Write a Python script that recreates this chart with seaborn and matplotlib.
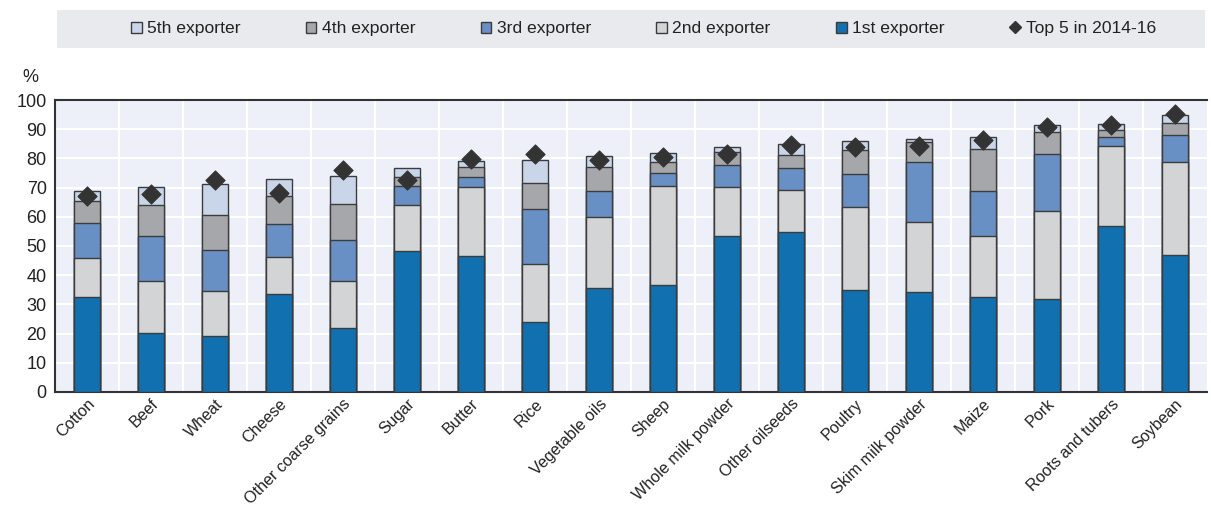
import matplotlib
matplotlib.use("Agg")
import matplotlib.pyplot as plt
import matplotlib.patches as mpatches
from matplotlib.lines import Line2D
import numpy as np
import pandas as pd
import seaborn as sns

# Products, ordered as in the reference
products = ["Cotton", "Beef", "Wheat", "Cheese", "Other coarse grains", "Sugar",
            "Butter", "Rice", "Vegetable oils", "Sheep", "Whole milk powder",
            "Other oilseeds", "Poultry", "Skim milk powder", "Maize", "Pork",
            "Roots and tubers", "Soybean"]

# Export shares (%) of each ranked exporter
first = [32.6, 20.1, 19.1, 33.7, 21.8, 48.2, 46.5, 23.8, 35.5, 36.7, 53.3, 54.7, 34.9, 34.2, 32.5, 31.9, 57.0, 46.8]
second = [13.3, 18.0, 15.4, 12.4, 16.3, 15.7, 23.8, 20.0, 24.3, 33.7, 17.0, 14.6, 28.4, 24.0, 20.9, 30.2, 27.2, 31.9]
third = [11.9, 15.4, 14.2, 11.5, 13.8, 6.6, 3.5, 18.8, 9.0, 4.6, 7.3, 7.4, 11.4, 20.5, 15.6, 19.4, 3.1, 9.4]
fourth = [7.7, 10.7, 11.9, 9.4, 12.4, 3.3, 3.3, 8.9, 8.1, 3.9, 4.5, 4.6, 8.3, 6.8, 14.1, 7.5, 2.5, 4.0]
fifth = [3.3, 6.0, 10.8, 5.8, 9.8, 3.0, 1.9, 7.8, 3.9, 3.0, 1.9, 3.5, 3.1, 1.1, 4.1, 2.5, 1.9, 2.9]
top5_2014_16 = [67.0, 67.7, 72.6, 68.1, 76.1, 72.7, 79.8, 81.6, 79.3, 80.5, 81.4, 84.7, 83.9, 84.2, 86.3, 90.8, 91.4, 95.2]

labels = ["1st exporter", "2nd exporter", "3rd exporter", "4th exporter", "5th exporter"]
colors = ["#1170b0", "#d3d4d6", "#6890c4", "#a6a7aa", "#c9d6ea"]

df = pd.DataFrame({"product": products, "1st exporter": first, "2nd exporter": second,
                   "3rd exporter": third, "4th exporter": fourth, "5th exporter": fifth,
                   "top5": top5_2014_16})
cum = df[labels].cumsum(axis=1)

sns.set_style("white")
plt.rcParams["font.family"] = ["Liberation Sans", "DejaVu Sans"]
plt.rcParams["text.color"] = "#222222"
plt.rcParams["xtick.color"] = "#222222"
plt.rcParams["ytick.color"] = "#222222"

fig = plt.figure(figsize=(12.11, 5.09), dpi=100)
ax = fig.add_axes([0.0454, 0.2299, 0.9513, 0.5736])
ax.set_facecolor("#edf0f8")

# stacked bars: draw tallest cumulative first
for lab, col in reversed(list(zip(labels, colors))):
    sns.barplot(x=df["product"], y=cum[lab], color=col, width=0.41, saturation=1,
                edgecolor="#3c3c3c", linewidth=1.0, ax=ax, zorder=3)

sns.scatterplot(x=df["product"], y=df["top5"], marker="D", s=95, color="#333333",
                edgecolor="#333333", ax=ax, zorder=5, legend=False)

ax.set_ylim(0, 100)
ax.set_xlim(-0.5, len(products) - 0.5)
ax.set_yticks(np.arange(0, 101, 10))
ax.set_xlabel("")
ax.set_ylabel("")

ax.set_xticks(np.arange(len(products)))
ax.set_xticklabels(products, rotation=45, ha="right", rotation_mode="anchor")
ax.set_xticks(np.arange(len(products) - 1) + 0.5, minor=True)
ax.tick_params(axis="x", which="major", length=0, labelsize=11.6, pad=3)
ax.tick_params(axis="x", which="minor", direction="in", length=5, width=1.5, color="#333333")
ax.tick_params(axis="y", direction="in", length=5, width=1.5, color="#333333", labelsize=13, pad=6)

ax.grid(axis="y", which="major", color="white", linewidth=1.5, zorder=0)
ax.grid(axis="x", which="minor", color="white", linewidth=1.5, zorder=0)
ax.set_axisbelow(True)

for side in ["left", "top", "bottom"]:
    ax.spines[side].set_color("#333333")
    ax.spines[side].set_linewidth(1.5)
ax.spines["right"].set_visible(False)

fig.text(0.025, 0.832, "%", fontsize=13, ha="center", va="bottom")

# legend strip
fig.patches.append(mpatches.Rectangle((0.047, 0.906), 0.948, 0.075, transform=fig.transFigure,
                                      facecolor="#e9eaed", edgecolor="none", zorder=0))
handles = [mpatches.Patch(facecolor=c, edgecolor="#3c3c3c", linewidth=1.0, label=l)
           for l, c in reversed(list(zip(labels, colors)))]
handles.append(Line2D([], [], marker="D", linestyle="none", color="#333333", markersize=6,
                      label="Top 5 in 2014-16"))
fig.legend(handles=handles, loc="center", bbox_to_anchor=(0.1024, 0.906, 0.858, 0.075),
           mode="expand", ncol=6, frameon=False, fontsize=12.6, handlelength=0.6,
           handleheight=0.6, handletextpad=0.3, borderaxespad=0)

fig.savefig("out.png", dpi=100)
